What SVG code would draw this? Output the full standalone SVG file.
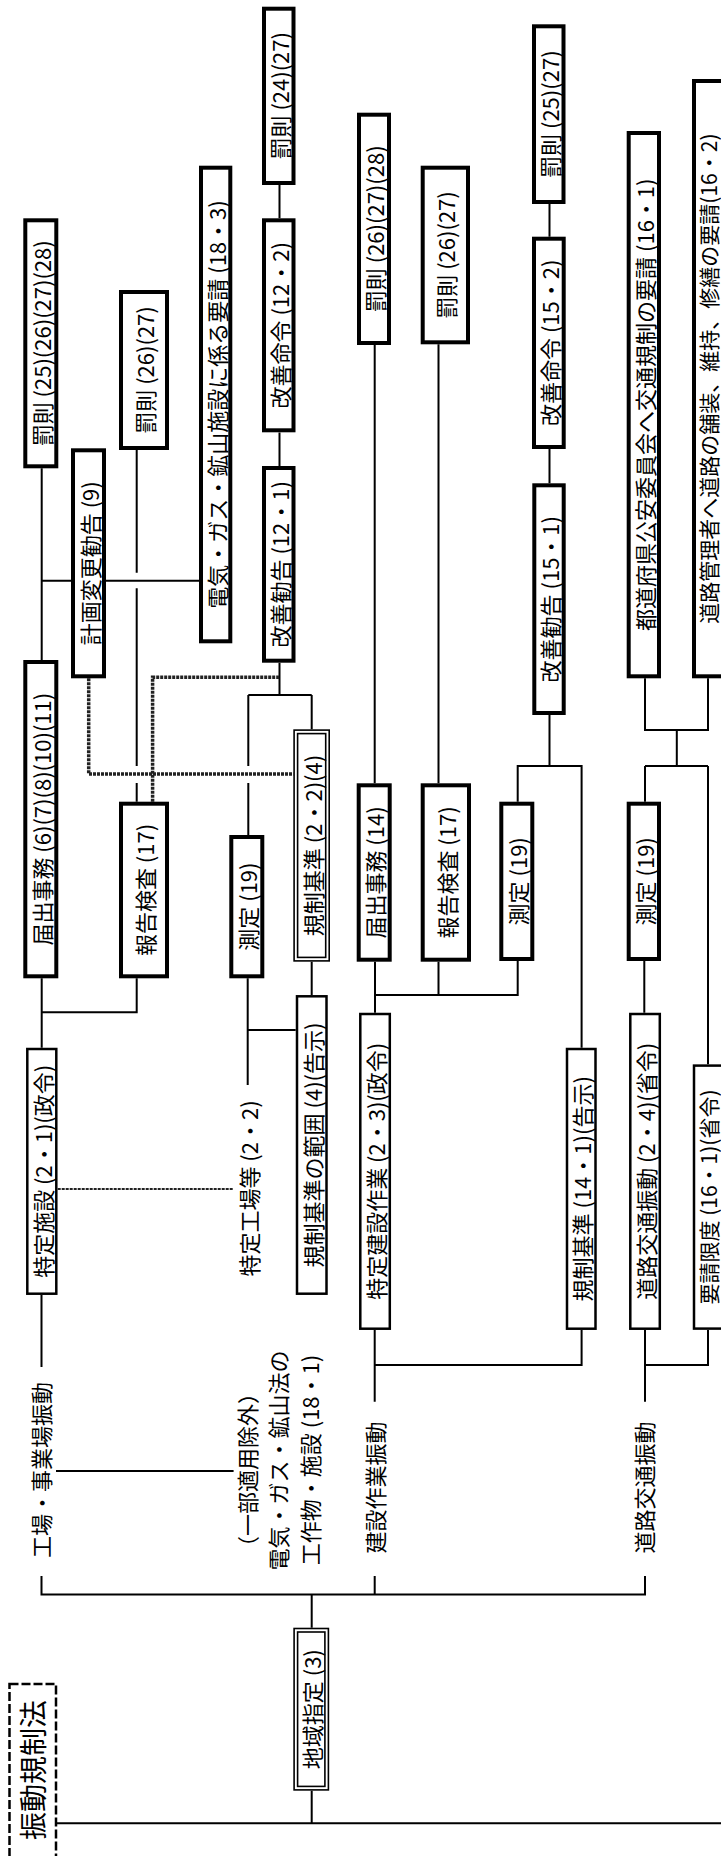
<svg xmlns="http://www.w3.org/2000/svg" width="721" height="1856" viewBox="0 0 721 1856">
<style>
text{font-family:"Noto Sans CJK JP","Liberation Sans",sans-serif;font-size:22px;fill:#000;text-anchor:middle;dominant-baseline:central}
.title{font-size:28px}
.edge{font-size:21px}
.thick{fill:#fff;stroke:#000;stroke-width:4}
.thin{fill:#fff;stroke:#000;stroke-width:2.5}
.dbl{fill:#fff;stroke:#000;stroke-width:1.6}
.c{fill:none;stroke:#000;stroke-width:2}
.h{fill:none;stroke:#222;stroke-width:3.5;stroke-dasharray:3 1}
.t{fill:none;stroke:#000;stroke-width:2.5;stroke-dasharray:9 3}
</style>
<rect width="721" height="1856" fill="#fff"/>
<g id="connectors">
<path class="c" d="M41.5 1576V1594.5H645V1576M374.7 1576V1594.5M311.7 1594.5V1627.7M311.7 1790.7V1823.3M57 1823.3H721"/>
<path class="c" d="M41.5 1367V1295M56 1471H233.6"/>
<path class="c" d="M41.7 1047.7V978.3M41.7 1012.3H136.7V978.3M41.7 660V468.3M41.7 580.7H71M106 580.7H199"/>
<path class="c" d="M136.7 450V572.7M136.7 588.3V766M136.7 783V801.7"/>
<path class="c" d="M279.5 662.7V695M248.3 695H311.7M248.3 695V766M248.3 783V835M311.7 695V729.3"/>
<path class="c" d="M247.7 978.3V1085M247.7 1030H295.7M311.7 961.7V995"/>
<path class="c" d="M279.5 185V218.3M279.5 432.5V466"/>
<path class="c" d="M374.7 345V783.3M438.5 344.3V783.3"/>
<path class="c" d="M375 961.7V1012.7M375 995H517.7V961M438.5 961.7V995"/>
<path class="c" d="M374.7 1330V1401.7M374.7 1365H581.6V1330"/>
<path class="c" d="M549.5 204V236.7M549.5 449V483.3M549.5 715V766M517.7 801.7V766H581.6V1047.7"/>
<path class="c" d="M645 678.3V730H708V678.3M676.8 730V766M645 766H708M645 766V801.7M708 766V1064.3M644.3 961V1012.7"/>
<path class="c" d="M645 1330V1401.7M645 1365H708V1330"/>
<path class="h" d="M88.7 678.3V774H293.3"/>
<path class="h" d="M152.6 801.7V677.3H279.5"/>
<path class="h" d="M57.7 1189H233.6" style="stroke-width:2.2"/>
</g>
<g id="title"><rect class="t" x="9.5" y="1684" width="46.5" height="190"/><text class="title" transform="translate(32 1770) rotate(-90)">振動規制法</text></g>
<g id="n-chiiki"><rect class="dbl" x="294.1" y="1628.5" width="34.3" height="161.4"/><rect class="dbl" x="297.6" y="1632" width="27.3" height="154.4"/><text transform="translate(311.2 1709.2) rotate(-90)">地域指定 (3)</text></g>
<g id="l-kojo"><text transform="translate(40 1470) rotate(-90)">工場・事業場振動</text></g>
<g id="l-denki"><text transform="translate(246 1470) rotate(-90)">（一部適用除外）</text><text transform="translate(277 1460.5) rotate(-90)">電気・ガス・鉱山法の</text><text transform="translate(309 1460) rotate(-90)">工作物・施設 (18・1)</text></g>
<g id="l-kensetsu"><text transform="translate(374 1487.5) rotate(-90)">建設作業振動</text></g>
<g id="l-doro"><text transform="translate(643 1487.5) rotate(-90)">道路交通振動</text></g>
<g id="l-tokuteikojo"><text transform="translate(247.7 1188.5) rotate(-90)">特定工場等 (2・2)</text></g>
<g id="n1"><rect class="thick" x="25.3" y="220.3" width="31" height="246"/><text transform="translate(40.8 343.3) rotate(-90)">罰則 (25)(26)(27)(28)</text></g>
<g id="n2"><rect class="thick" x="73" y="450.3" width="31" height="226"/><text transform="translate(88.5 563.3) rotate(-90)">計画変更勧告 (9)</text></g>
<g id="n3"><rect class="thick" x="25.3" y="662" width="31" height="314.3"/><text transform="translate(40.8 819.2) rotate(-90)">届出事務 (6)(7)(8)(10)(11)</text></g>
<g id="n4"><rect class="thick" x="121" y="292" width="46" height="156"/><text transform="translate(144 370) rotate(-90)">罰則 (26)(27)</text></g>
<g id="n5"><rect class="thick" x="121" y="803.7" width="46" height="172.6"/><text transform="translate(144 890) rotate(-90)">報告検査 (17)</text></g>
<g id="n6"><rect class="thick" x="201" y="167.7" width="29.3" height="473.6"/><text transform="translate(215.7 404.5) rotate(-90)">電気・ガス・鉱山施設に係る要請 (18・3)</text></g>
<g id="n7"><rect class="thick" x="264" y="8.7" width="29.5" height="174.3"/><text transform="translate(278.8 95.8) rotate(-90)">罰則 (24)(27)</text></g>
<g id="n8"><rect class="thick" x="264" y="220.3" width="29.5" height="210"/><text transform="translate(278.8 325.3) rotate(-90)">改善命令 (12・2)</text></g>
<g id="n9"><rect class="thick" x="264" y="468" width="29.5" height="192.7"/><text transform="translate(278.8 564.3) rotate(-90)">改善勧告 (12・1)</text></g>
<g id="n10"><rect class="thick" x="231.3" y="837" width="31" height="139.3"/><text transform="translate(246.8 906.6) rotate(-90)">測定 (19)</text></g>
<g id="n28"><rect class="dbl" x="294.1" y="730.1" width="35.1" height="230.8"/><rect class="dbl" x="297.6" y="733.6" width="28.1" height="223.8"/><text transform="translate(311.7 845.5) rotate(-90)">規制基準 (2・2)(4)</text></g>
<g id="n11"><rect class="thick" x="359" y="114.7" width="30" height="228.3"/><text transform="translate(374 228.8) rotate(-90)">罰則 (26)(27)(28)</text></g>
<g id="n12"><rect class="thick" x="358.7" y="785.3" width="31" height="174.4"/><text transform="translate(374.2 872.5) rotate(-90)">届出事務 (14)</text></g>
<g id="n13"><rect class="thick" x="422.7" y="167.7" width="45.3" height="174.6"/><text transform="translate(445.3 255) rotate(-90)">罰則 (26)(27)</text></g>
<g id="n14"><rect class="thick" x="422.7" y="785.3" width="46.3" height="174.4"/><text transform="translate(445.8 872.5) rotate(-90)">報告検査 (17)</text></g>
<g id="n15"><rect class="thick" x="501.3" y="803.7" width="31" height="155.3"/><text transform="translate(516.8 881.3) rotate(-90)">測定 (19)</text></g>
<g id="n16"><rect class="thick" x="534" y="26.3" width="29.5" height="175.7"/><text transform="translate(548.8 114.2) rotate(-90)">罰則 (25)(27)</text></g>
<g id="n17"><rect class="thick" x="534" y="238.7" width="29.7" height="208.3"/><text transform="translate(548.8 342.8) rotate(-90)">改善命令 (15・2)</text></g>
<g id="n18"><rect class="thick" x="534.3" y="485.3" width="29.4" height="227.7"/><text transform="translate(549 599.2) rotate(-90)">改善勧告 (15・1)</text></g>
<g id="n19"><rect class="thick" x="628.7" y="133" width="30.3" height="543.3"/><text transform="translate(643.8 404.7) rotate(-90)">都道府県公安委員会へ交通規制の要請 (16・1)</text></g>
<g id="n20"><rect class="thick" x="694" y="81" width="31" height="595.3"/><text class="edge" transform="translate(707.5 378.6) rotate(-90)">道路管理者へ道路の舗装、維持、修繕の要請(16・2)</text></g>
<g id="n21"><rect class="thick" x="628.7" y="803.7" width="30.3" height="155.3"/><text transform="translate(643.8 881.3) rotate(-90)">測定 (19)</text></g>
<g id="n22"><rect class="thin" x="27.3" y="1049" width="29" height="244.7"/><text transform="translate(41.8 1171.3) rotate(-90)">特定施設 (2・1)(政令)</text></g>
<g id="n23"><rect class="thin" x="297" y="996.3" width="29.5" height="297.4"/><text transform="translate(311.7 1145) rotate(-90)">規制基準の範囲 (4)(告示)</text></g>
<g id="n24"><rect class="thin" x="360.3" y="1014" width="29.5" height="314.7"/><text transform="translate(375 1171.3) rotate(-90)">特定建設作業 (2・3)(政令)</text></g>
<g id="n25"><rect class="thin" x="567" y="1049" width="28.5" height="279.7"/><text transform="translate(581.2 1188.8) rotate(-90)">規制基準 (14・1)(告示)</text></g>
<g id="n26"><rect class="thin" x="630.3" y="1014" width="29.5" height="314.7"/><text transform="translate(645 1171.3) rotate(-90)">道路交通振動 (2・4)(省令)</text></g>
<g id="n27"><rect class="thin" x="694" y="1065.6" width="30" height="263"/><text class="edge" transform="translate(707.5 1197) rotate(-90)">要請限度 (16・1)(省令)</text></g>
</svg>
